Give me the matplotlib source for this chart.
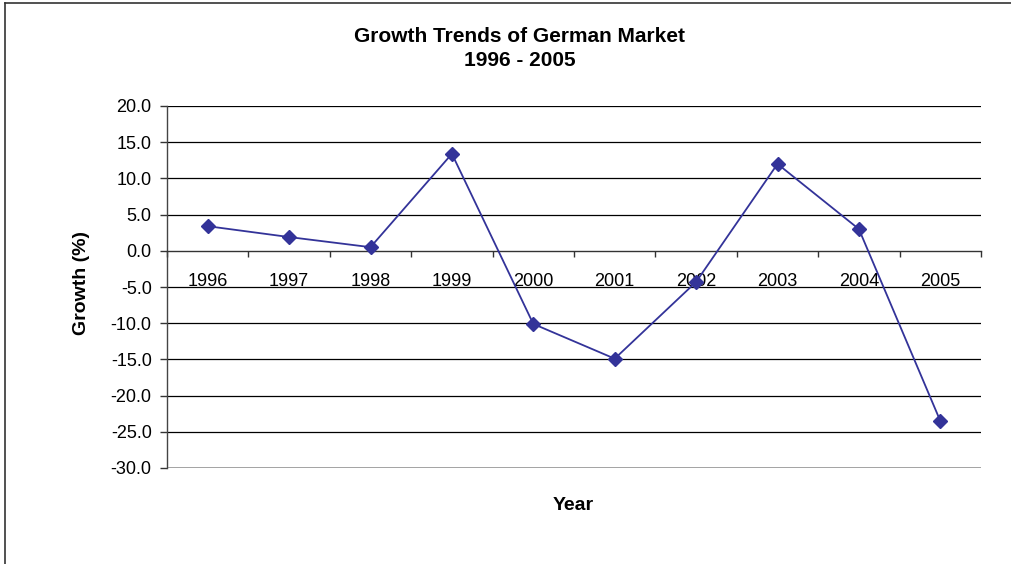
import matplotlib

matplotlib.use("Agg")
import matplotlib.pyplot as plt
from matplotlib.lines import Line2D
from matplotlib.ticker import FixedLocator, FormatStrFormatter

years = ["1996", "1997", "1998", "1999", "2000", "2001", "2002", "2003", "2004", "2005"]
growth = [3.4, 1.9, 0.5, 13.4, -10.1, -14.9, -4.3, 12.0, 3.0, -23.5]
y_ticks = [-30, -25, -20, -15, -10, -5, 0, 5, 10, 15, 20]

plt.rcParams["font.family"] = ["Liberation Sans", "DejaVu Sans"]

fig = plt.figure(figsize=(10.11, 5.64), dpi=100)
ax = fig.add_axes([167 / 1011, 1 - 468 / 564, (981 - 167) / 1011, (468 - 106) / 564])

x = list(range(len(years)))
ax.set_xlim(-0.5, len(years) - 0.5)
ax.set_ylim(y_ticks[0], y_ticks[-1])

# horizontal gridlines, black like the old spreadsheet style
for v in y_ticks[1:]:
    if v != 0:
        ax.axhline(v, color="black", lw=0.9, zorder=1)
ax.axhline(y_ticks[0], color="#888888", lw=1.8, zorder=1)

ax.plot(x, growth, color="#333399", lw=1.3, marker="D", markersize=7,
        markerfacecolor="#333399", markeredgecolor="#333399", zorder=3)

# category axis crosses at zero
ax.spines["bottom"].set_position(("data", 0))
ax.spines["bottom"].set_color("#333333")
ax.spines["bottom"].set_linewidth(1.0)
ax.spines["top"].set_visible(False)
ax.spines["right"].set_visible(False)
ax.spines["left"].set_color("#444444")
ax.spines["left"].set_linewidth(1.0)

ax.set_xticks(x)
ax.set_xticklabels(years, fontsize=13)
ax.xaxis.set_minor_locator(FixedLocator([i - 0.5 for i in range(len(years) + 1)]))
ax.tick_params(axis="x", which="major", length=0, pad=16)
ax.tick_params(axis="x", which="minor", length=4, width=1.0, color="#333333", direction="out")

ax.set_yticks(y_ticks)
ax.yaxis.set_major_formatter(FormatStrFormatter("%.1f"))
ax.tick_params(axis="y", length=5, width=1.0, color="#333333", labelsize=13, pad=6)

fig.text(520 / 1011, 1 - 36 / 564, "Growth Trends of German Market", ha="center", va="center",
         fontsize=15, fontweight="bold")
fig.text(520 / 1011, 1 - 61 / 564, "1996 - 2005", ha="center", va="center",
         fontsize=15, fontweight="bold")
fig.text(81 / 1011, 1 - 283 / 564, "Growth (%)", rotation=90, ha="center", va="center",
         fontsize=14, fontweight="bold")
fig.text(573 / 1011, 1 - 505 / 564, "Year", ha="center", va="center",
         fontsize=14, fontweight="bold")

# outer chart frame (top and left edges)
fig.add_artist(Line2D([5 / 1011, 5 / 1011], [0, 1 - 3 / 564], color="#333333", lw=1.2,
                      transform=fig.transFigure))
fig.add_artist(Line2D([5 / 1011, 1], [1 - 3 / 564, 1 - 3 / 564], color="#333333", lw=1.2,
                      transform=fig.transFigure))

fig.savefig("out.png", dpi=100)
